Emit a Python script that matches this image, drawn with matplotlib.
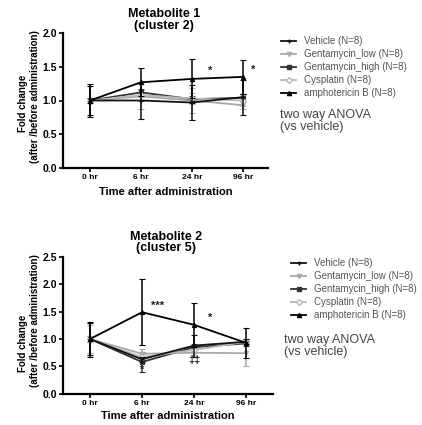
import matplotlib
matplotlib.use("Agg")
import matplotlib.pyplot as plt
from matplotlib.lines import Line2D

plt.rcParams['font.family'] = ['Liberation Sans', 'DejaVu Sans']

time_labels = ['0 hr', '6 hr', '24 hr', '96 hr']
series_names = ['Vehicle (N=8)', 'Gentamycin_low (N=8)', 'Gentamycin_high (N=8)',
                'Cysplatin (N=8)', 'amphotericin B (N=8)']

# Metabolite 1 (cluster 2)
m1_vehicle = [1.00, 1.00, 0.97, 1.05]
m1_gent_low = [1.00, 1.06, 1.00, 0.93]
m1_gent_high = [1.00, 1.12, 1.02, 1.04]
m1_cysplatin = [1.00, 1.08, 1.03, 1.00]
m1_ampho = [1.00, 1.27, 1.32, 1.35]
m1_vehicle_err = [0.24, 0.27, 0.26, 0.26]
m1_gent_low_err = [0.03, 0.18, 0.18, 0.05]
m1_gent_high_err = [0.03, 0.05, 0.05, 0.05]
m1_cysplatin_err = [0.24, 0.08, 0.08, 0.08]
m1_ampho_err = [0.22, 0.21, 0.29, 0.25]

# Metabolite 2 (cluster 5)
m2_vehicle = [1.00, 0.63, 0.88, 0.95]
m2_gent_low = [1.00, 0.73, 0.75, 0.74]
m2_gent_high = [1.00, 0.58, 0.85, 0.92]
m2_cysplatin = [1.00, 0.67, 0.80, 0.95]
m2_ampho = [1.00, 1.49, 1.26, 0.93]
m2_vehicle_err = [0.30, 0.05, 0.20, 0.05]
m2_gent_low_err = [0.25, 0.08, 0.08, 0.24]
m2_gent_high_err = [0.05, 0.18, 0.05, 0.05]
m2_cysplatin_err = [0.05, 0.05, 0.05, 0.05]
m2_ampho_err = [0.32, 0.60, 0.40, 0.27]

# annotations: (x position index, y value, text)
m1_annot_x = [2.35, 3.2]
m1_annot_y = [1.44, 1.46]
m1_annot_t = ['*', '*']
m2_annot_x = [1.3, 2.32, 1.0, 2.0]
m2_annot_y = [1.61, 1.38, 0.43, 0.62]
m2_annot_t = ['***', '*', '*', '\u2021\u2021']

colors = ['#111111', '#a8a8a8', '#333333', '#b8b8b8', '#000000']
markers = ['+', 'v', 's', 'D', '^']
mfc = ['#111111', '#a8a8a8', '#333333', 'white', '#000000']

fig = plt.figure(figsize=(4.22, 4.25), dpi=100)
W, H = 422, 425


def fx(px):
    return px / W


def fy(py):
    return 1 - py / H


def make_axes(left, right, top, bottom):
    return fig.add_axes([fx(left), fy(bottom), (right - left) / W, (bottom - top) / H])


def draw_panel(ax, data, errs, ylim, yticks, xlim, ax_x, ay, at, xlab_y):
    x = list(range(len(time_labels)))
    for i, (d, e) in enumerate(zip(data, errs)):
        ax.errorbar(x, d, yerr=e, color=colors[i], marker=markers[i], ms=3,
                    mfc=mfc[i], mec=colors[i], mew=0.8, lw=1.3, elinewidth=1.1,
                    capsize=2.2, capthick=1.1, zorder=3 + (i in (0, 4)))
    for xx, yy, tt in zip(ax_x, ay, at):
        ax.text(xx, yy, tt, ha='center', va='center', fontsize=8, color='#222222',
                fontweight='bold')
    ax.set_xlim(*xlim)
    ax.set_ylim(*ylim)
    ax.set_xticks(x)
    ax.set_xticklabels(time_labels, fontsize=6, fontweight='bold')
    ax.set_yticks(yticks)
    ax.set_yticklabels(['%.1f' % v for v in yticks], fontsize=7.5, fontweight='bold')
    for s in ['top', 'right']:
        ax.spines[s].set_visible(False)
    for s in ['left', 'bottom']:
        ax.spines[s].set_linewidth(1.6)
    ax.tick_params(width=1.2, length=3, pad=1.5)
    ax.set_xlabel('Time after administration', fontsize=8, fontweight='bold')
    ax.xaxis.set_label_coords(0.5, xlab_y)
    ax.xaxis.label.set_va('center')


ax1 = make_axes(63, 268, 33, 168)
draw_panel(ax1,
           [m1_vehicle, m1_gent_low, m1_gent_high, m1_cysplatin, m1_ampho],
           [m1_vehicle_err, m1_gent_low_err, m1_gent_high_err, m1_cysplatin_err, m1_ampho_err],
           (0, 2.0), [0.0, 0.5, 1.0, 1.5, 2.0], (-0.53, 3.49),
           m1_annot_x, m1_annot_y, m1_annot_t, -0.178)

ax2 = make_axes(63, 273, 257, 393.7)
draw_panel(ax2,
           [m2_vehicle, m2_gent_low, m2_gent_high, m2_cysplatin, m2_ampho],
           [m2_vehicle_err, m2_gent_low_err, m2_gent_high_err, m2_cysplatin_err, m2_ampho_err],
           (0, 2.5), [0.0, 0.5, 1.0, 1.5, 2.0, 2.5], (-0.52, 3.52),
           m2_annot_x, m2_annot_y, m2_annot_t, -0.163)

# titles
fig.text(fx(164), fy(20), 'Metabolite 1\n(cluster 2)', ha='center', va='center',
         fontsize=9, fontweight='bold', linespacing=1.0)
fig.text(fx(166), fy(242.5), 'Metabolite 2\n(cluster 5)', ha='center', va='center',
         fontsize=9, fontweight='bold', linespacing=1.0)

# y labels
for y1, y2 in [(103, 97), (343, 321)]:
    fig.text(fx(23), fy(y1), 'Fold change', rotation=90, ha='center', va='center',
             fontsize=7, fontweight='bold')
    fig.text(fx(35), fy(y2), '(after /before administration)', rotation=90,
             ha='center', va='center', fontsize=7, fontweight='bold')

handles = [Line2D([], [], color=colors[i], marker=markers[i], ms=3, mfc=mfc[i],
                  mec=colors[i], lw=1.3) for i in range(5)]

for (hx, ty, ax_txt, ay_text) in [(281, 36, 280, 109), (291, 258, 284, 334)]:
    fig.legend(handles, series_names, loc='upper left',
               bbox_to_anchor=(fx(hx), fy(ty)), frameon=False, fontsize=7,
               handlelength=1.55, handletextpad=0.8, labelspacing=0.32,
               borderaxespad=0, borderpad=0, labelcolor='#555555')
    fig.text(fx(ax_txt), fy(ay_text), 'two way ANOVA\n(vs vehicle)', ha='left',
             va='top', fontsize=9, color='#444444', linespacing=1.05)

fig.savefig('out.png', dpi=100, facecolor='white')
